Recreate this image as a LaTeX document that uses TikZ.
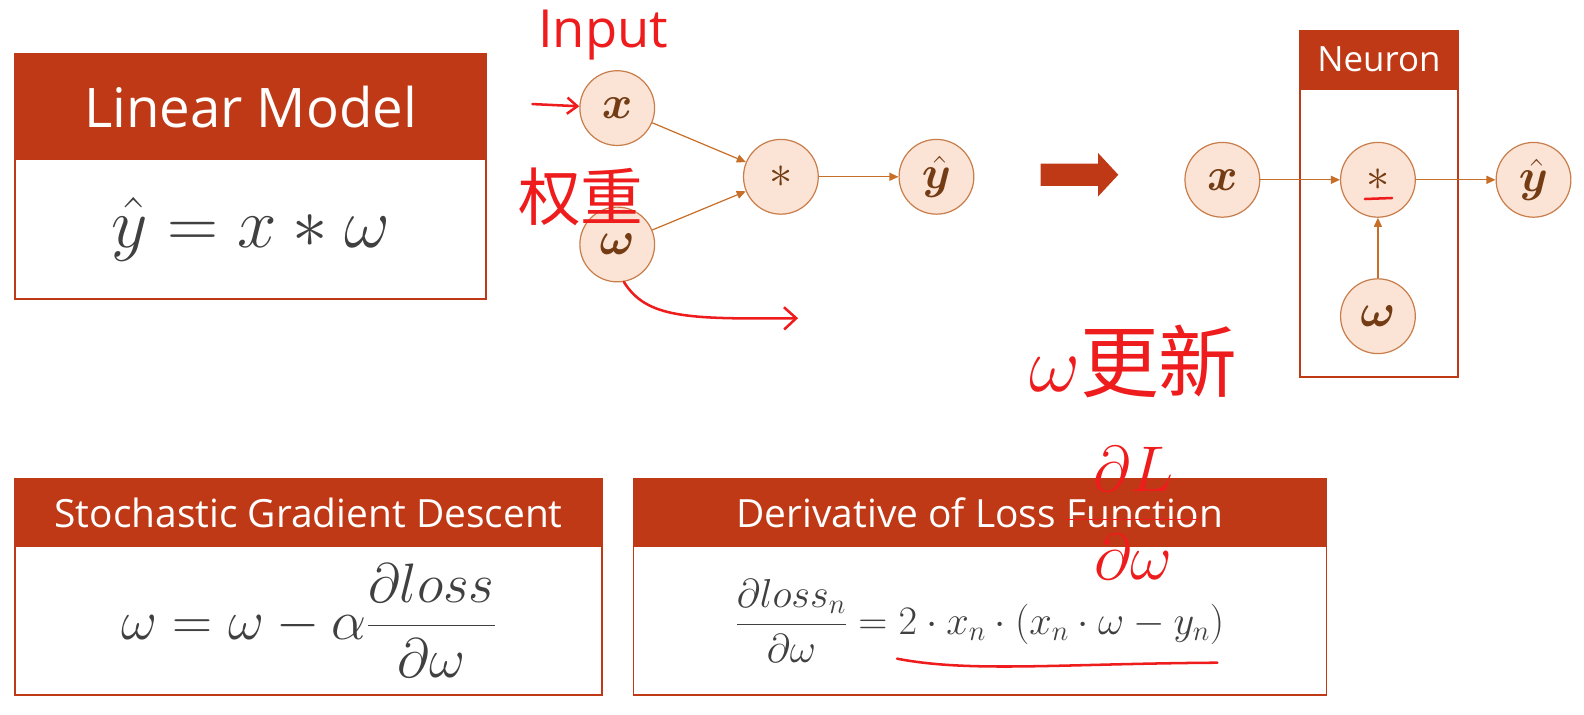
\RequirePackage{fix-cm}
\documentclass[tikz,border=0pt]{standalone}
\usepackage[no-math]{fontspec}
\setmainfont{Open Sans}
\newfontfamily\cjk{Noto Sans CJK SC}
\usepackage{amsmath,bm}
\usetikzlibrary{arrows.meta, positioning}

\definecolor{hdrred}{RGB}{192,57,22}
\definecolor{circfill}{RGB}{251,228,213}
\definecolor{circdraw}{RGB}{200,125,75}
\definecolor{wirecol}{RGB}{199,110,40}
\definecolor{circtext}{RGB}{115,60,20}
\definecolor{inkred}{RGB}{238,28,28}
\definecolor{mathgray}{RGB}{64,64,64}

\begin{document}
\begin{tikzpicture}[
  x=1pt, y=-1pt,
  panelhead/.style={fill=hdrred, draw=hdrred, line width=1.5pt, text=white,
                    inner sep=0pt, outer sep=0pt},
  panelbody/.style={draw=hdrred, line width=1.5pt, fill=white, text=mathgray,
                    inner sep=0pt, outer sep=0pt},
  cell/.style={circle, fill=circfill, draw=circdraw, line width=1.2pt,
               minimum size=74pt, inner sep=0pt, text=circtext,
               font=\fontsize{46}{46}\selectfont},
  link/.style={draw=wirecol, line width=1.2pt, -{Triangle[length=9pt,width=8pt]}},
  ink/.style={draw=inkred, line width=2.5pt, line cap=round, line join=round},
  inktext/.style={text=inkred, inner sep=0pt},
]
\useasboundingbox (0,0) rectangle (1568,707);

% linear model
\node[panelhead, minimum width=466pt, minimum height=105pt, font=\fontsize{54}{54}\selectfont]
  (lmhead) at (248,105.5) {Linear Model};
\node[panelbody, minimum width=466pt, minimum height=138pt, below=0pt of lmhead,
  font=\fontsize{70}{70}\selectfont] (lmbody) {$\hat{y} = x * \omega$};

% sgd
\node[panelhead, minimum width=581pt, minimum height=67pt, font=\fontsize{38.5}{38.5}\selectfont]
  (sgdhead) at (305.5,507.5) {Stochastic Gradient Descent};
\node[panelbody, minimum width=581pt, minimum height=147pt, below=0pt of sgdhead,
  font=\fontsize{55}{55}\selectfont] (sgdbody)
  {$\omega = \omega - \alpha\dfrac{\partial loss}{\partial\omega}$};

% derivative
\node[panelhead, minimum width=686pt, minimum height=67pt, font=\fontsize{38.5}{38.5}\selectfont]
  (derhead) at (970,507.5) {Derivative of Loss Function};
\node[panelbody, minimum width=686pt, minimum height=147pt, below=0pt of derhead,
  font=\fontsize{40}{40}\selectfont] (derbody)
  {$\dfrac{\partial loss_n}{\partial\omega} = 2\cdot x_n\cdot(x_n\cdot\omega - y_n)$};

% left network
\node[cell] (x1) at (611,107) {$\bm{x}$};
\node[cell] (w1) at (611,242) {$\bm{\omega}$};
\node[cell] (m1) at (773,175) {$*$};
\node[cell] (y1) at (927,175) {$\hat{\bm{y}}$};
\draw[link] (x1) -- (m1);
\draw[link] (w1) -- (m1);
\draw[link] (m1) -- (y1);

% big arrow
\fill[hdrred] (1030,162) -- (1087,162) -- (1087,151.5) -- (1107,173)
  -- (1087,194.5) -- (1087,184) -- (1030,184) -- cycle;

% neuron
\node[panelhead, minimum width=156pt, minimum height=58pt, font=\fontsize{34.5}{34.5}\selectfont]
  (nrhead) at (1365,59) {Neuron};
\node[panelbody, minimum width=156pt, minimum height=285pt, below=0pt of nrhead] (nrbody) {};
\node[cell] (x2) at (1210,178) {$\bm{x}$};
\node[cell] (m2) at (1364,178) {$*$};
\node[cell] (y2) at (1518,178) {$\hat{\bm{y}}$};
\node[cell] (w2) at (1364,313) {$\bm{\omega}$};
\draw[link] (x2) -- (m2);
\draw[link] (w2) -- (m2);
\draw[link] (m2) -- (y2);

% handwriting
\node[inktext, font=\fontsize{52}{52}\selectfont] (input) at (597,35) {Input};
\coordinate (inarrow) at (527,103);
\draw[ink, -{Straight Barb[length=10pt,width=16pt]}] (inarrow) -- (x1);
\node[inktext, font=\fontsize{62}{62}\cjk] (quanzhong) at (575,195) {权重};
\coordinate (wtail) at (790,315);
\draw[ink, -{Straight Barb[length=12pt,width=22pt]}] (w1.-80)
  .. controls (640,315) and (680,316) .. (wtail);
\node[inktext, font=\fontsize{78}{78}\cjk] (wupdate) at (1122,358) {$\omega$更新};
\node[inktext, font=\fontsize{64}{64}\selectfont] (dldw) at (1122,508)
  {$\dfrac{\mkern8mu\partial L\mkern8mu}{\partial\omega}$};
\coordinate (ulstart) at (888,652);
\coordinate (ulend) at (1205,656);
\draw[ink] (ulstart) .. controls (960,666) and (1050,657) .. (ulend);
\coordinate (stara) at (1351,197);
\coordinate (starb) at (1378,196);
\draw[ink] (stara) -- (starb);
\end{tikzpicture}
\end{document}
